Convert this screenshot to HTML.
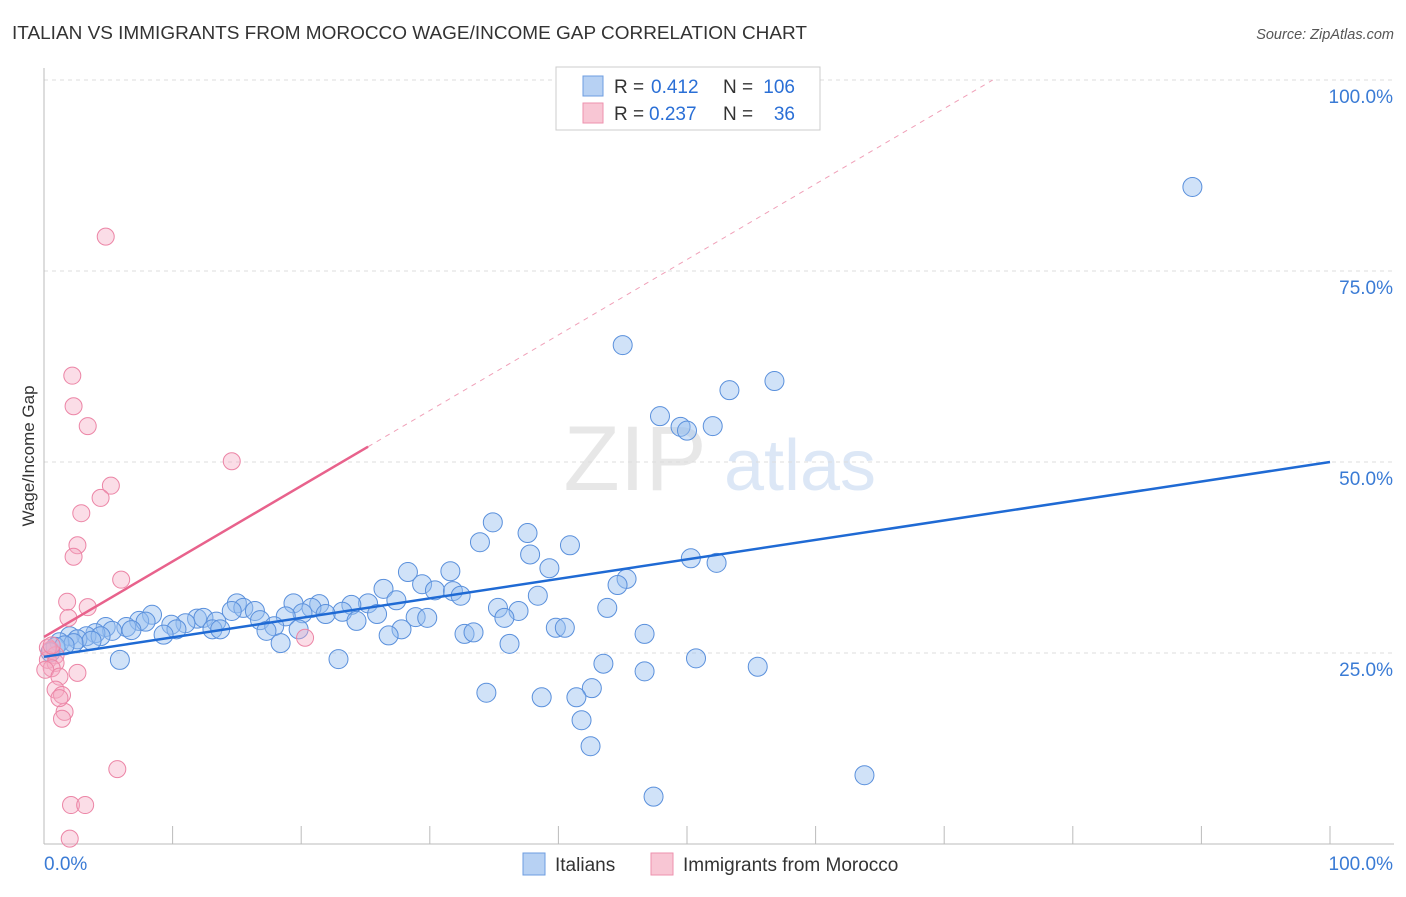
<!DOCTYPE html>
<html><head><meta charset="utf-8"><style>
body{margin:0;background:#fff;font-family:"Liberation Sans",sans-serif}
svg text{font-family:"Liberation Sans",sans-serif}
</style></head><body>
<svg id="chart" width="1406" height="892" xmlns="http://www.w3.org/2000/svg">
<text x="12" y="39" font-size="18.5" fill="#333" textLength="795" lengthAdjust="spacingAndGlyphs">ITALIAN VS IMMIGRANTS FROM MOROCCO WAGE/INCOME GAP CORRELATION CHART</text>
<text x="1394" y="39" font-size="14.5" fill="#555" text-anchor="end" font-style="italic">Source: ZipAtlas.com</text>
<text transform="translate(34,456) rotate(-90)" font-size="17" fill="#333" text-anchor="middle">Wage/Income Gap</text>
<g opacity="0.35">
<text x="635" y="490" font-size="92" fill="#bbb" text-anchor="middle" font-family="Liberation Serif">ZIP</text>
<text x="800" y="490" font-size="72" fill="#9cbde8" text-anchor="middle">atlas</text>
</g>
<g id="grid"></g><g id="axes"></g><g id="marks"></g>
<g>
<rect x="556" y="67" width="264" height="63" fill="#fff" stroke="#ccc"/>
<rect x="583" y="76" width="20" height="20" fill="#b7d1f3" stroke="#6d9de0"/>
<rect x="583" y="103" width="20" height="20" fill="#f8c6d4" stroke="#ee91ae"/>
<text x="614" y="93" font-size="19" fill="#333">R =</text>
<text x="651" y="93" font-size="19" fill="#2a6fd6">0.412</text>
<text x="723" y="93" font-size="19" fill="#333">N =</text>
<text x="795" y="93" font-size="19" fill="#2a6fd6" text-anchor="end">106</text>
<text x="614" y="120" font-size="19" fill="#333">R =</text>
<text x="649" y="120" font-size="19" fill="#2a6fd6">0.237</text>
<text x="723" y="120" font-size="19" fill="#333">N =</text>
<text x="795" y="120" font-size="19" fill="#2a6fd6" text-anchor="end">36</text>
</g>
<g>
<rect x="523" y="853" width="22" height="22" fill="#b7d1f3" stroke="#6d9de0"/>
<text x="555" y="871" font-size="19" fill="#333">Italians</text>
<rect x="651" y="853" width="22" height="22" fill="#f8c6d4" stroke="#ee91ae"/>
<text x="683" y="871" font-size="19" fill="#333">Immigrants from Morocco</text>
</g>
</svg>
<script>
const blueX=[89.3,45.0,56.8,53.3,47.9,49.5,50.0,52.0,34.9,37.6,33.9,40.9,37.8,50.3,52.3,39.3,28.3,31.6,45.3,44.6,26.4,29.4,30.4,31.8,32.4,38.4,27.4,25.2,19.4,21.4,15.0,23.9,20.8,15.5,43.8,35.3,36.9,14.6,16.4,23.2,20.1,21.9,8.4,18.8,25.9,28.9,29.8,35.8,11.9,12.4,7.4,7.9,13.4,16.8,24.3,11.0,9.9,17.9,4.8,6.4,10.3,13.1,27.8,39.8,40.5,19.8,13.7,5.3,6.8,17.3,4.0,32.7,33.4,46.7,9.3,26.8,3.3,4.4,2.0,2.6,3.7,1.2,2.3,18.4,36.2,0.9,1.6,0.5,22.9,5.9,50.7,43.5,55.5,46.7,42.6,34.4,38.7,41.4,41.8,42.5,63.8,47.4];
const blueY=[86.0,65.3,60.6,59.4,56.0,54.6,54.1,54.7,42.1,40.7,39.5,39.1,37.9,37.4,36.8,36.1,35.6,35.7,34.7,33.9,33.4,34.0,33.2,33.1,32.5,32.5,31.9,31.5,31.5,31.4,31.5,31.3,30.9,30.9,30.9,30.9,30.5,30.5,30.5,30.4,30.2,30.1,30.0,29.8,30.1,29.7,29.6,29.6,29.5,29.6,29.2,29.1,29.1,29.3,29.2,28.9,28.7,28.5,28.4,28.4,28.1,28.1,28.1,28.3,28.3,28.1,28.1,27.9,28.0,27.9,27.6,27.5,27.7,27.5,27.4,27.3,27.2,27.2,27.2,26.8,26.6,26.4,26.3,26.3,26.2,25.8,26.0,25.1,24.2,24.1,24.3,23.6,23.2,22.6,20.4,19.8,19.2,19.2,16.2,12.8,9.0,6.2];
const pinkX=[4.8,2.2,2.3,3.4,14.6,5.2,4.4,2.9,2.6,2.3,6.0,1.8,3.4,1.9,20.3,0.5,0.9,0.3,0.9,0.6,0.1,2.6,1.2,0.9,1.4,1.6,1.4,5.7,2.1,3.2,2.0,1.2,0.3,0.6];
const pinkY=[79.5,61.3,57.3,54.7,50.1,46.9,45.3,43.3,39.1,37.6,34.6,31.7,31.0,29.6,27.0,25.4,24.7,24.1,23.7,23.0,22.8,22.4,21.9,20.2,19.5,17.3,16.4,9.8,5.1,5.1,0.7,19.1,25.7,26.0];
const blueTrend=[24.5,50.0];
const pinkTrend=[27.1,52.0];
const pinkSolidEnd=25.2;
const yTicks=[25,50,75,100];
const xTicks=[0,10,20,30,40,50,60,70,80,90,100];
const NS='http://www.w3.org/2000/svg';
const X=v=>44+v*12.86, Y=v=>844-v*7.64;
function mk(p,t,a){const e=document.createElementNS(NS,t);for(const k in a)e.setAttribute(k,a[k]);p.appendChild(e);return e;}
const grid=document.getElementById('grid'),axes=document.getElementById('axes'),marks=document.getElementById('marks');
yTicks.forEach(t=>{
 const l=mk(grid,'line',{x1:44,x2:1394,y1:Y(t),y2:Y(t),stroke:'#ddd','stroke-dasharray':'4,4'});
 
 
 const tx=mk(axes,'text',{x:1393,y:Y(t)+23,'font-size':19,fill:'#3a7bd5','text-anchor':'end'});tx.textContent=t.toFixed(1)+'%';
 
 
});
const la=mk(axes,'line',{x1:44,x2:44,y1:68,y2:844,stroke:'#bbb'});


const lb=mk(axes,'line',{x1:44,x2:1394,y1:844,y2:844,stroke:'#bbb'});


xTicks.slice(1).forEach(t=>{const k=mk(axes,'line',{x1:X(t),x2:X(t),y1:826,y2:844,stroke:'#bbb'});
 
 });
[['0.0%',44,'start'],['100.0%',1393,'end']].forEach(([s,x,a])=>{const t=mk(axes,'text',{x:x,y:870,'font-size':19,fill:'#3a7bd5','text-anchor':a});t.textContent=s;
 
 });
blueX.forEach((v,i)=>{const c=mk(marks,'circle',{cx:X(v),cy:Y(blueY[i]),r:9.5,fill:'rgba(150,190,240,0.45)',stroke:'#5a90dc','stroke-width':1});
 
 });
pinkX.forEach((v,i)=>{const c=mk(marks,'circle',{cx:X(v),cy:Y(pinkY[i]),r:8.5,fill:'rgba(245,170,195,0.4)',stroke:'#ec85a6','stroke-width':1});
 
 });
const slope=(pinkTrend[1]-pinkTrend[0])/pinkSolidEnd;
const xEnd=(100-pinkTrend[0])/slope;
const pd=mk(marks,'line',{x1:X(pinkSolidEnd),y1:Y(pinkTrend[1]),x2:X(xEnd),y2:Y(100),stroke:'#f0a0b8','stroke-dasharray':'5,5'});


const pl=mk(marks,'line',{x1:X(0),y1:Y(pinkTrend[0]),x2:X(pinkSolidEnd),y2:Y(pinkTrend[1]),stroke:'#e8628c','stroke-width':2.5});


const bl=mk(marks,'line',{x1:X(0),y1:Y(blueTrend[0]),x2:X(100),y2:Y(blueTrend[1]),stroke:'#1f6ad4','stroke-width':2.5});


</script>
</body></html>
